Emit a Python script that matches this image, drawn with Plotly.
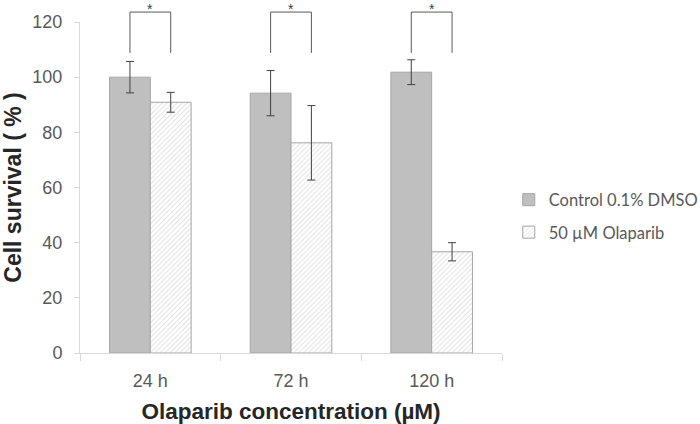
import plotly.graph_objects as go

categories = ["24 h", "72 h", "120 h"]
control = [100, 94.2, 101.8]
control_err = [5.7, 8.2, 4.5]
olaparib = [90.9, 76.2, 36.7]
olaparib_err = [3.6, 13.5, 3.3]
sig_labels = ["*", "*", "*"]
bracket_top = [123.6, 123.6, 123.6]
bracket_leg = [108.8, 108.8, 108.8]
y_ticks = [0, 20, 40, 60, 80, 100, 120]
Y_MAX = 120

BARGAP = 0.42
half = (1 - BARGAP) / 4  # offset of each bar centre from category centre

tick_font = dict(family="Liberation Sans, Arial, sans-serif", size=18, color="#595959")
err_style = dict(color="#404040", thickness=1, width=4)

fig = go.Figure()
fig.add_trace(go.Bar(
    x=categories, y=control, name="Control 0.1% DMSO",
    marker=dict(color="#bfbfbf", line=dict(color="#a6a6a6", width=1)),
    error_y=dict(type="data", array=control_err, visible=True, **err_style),
    legendgroup="a",
))
fig.add_trace(go.Bar(
    x=categories, y=olaparib, name="50 µM Olaparib",
    marker=dict(color="white", line=dict(color="#a6a6a6", width=1),
                pattern=dict(shape="/", fgcolor="#c4c4c4", bgcolor="white", size=3.5, solidity=0.3)),
    error_y=dict(type="data", array=olaparib_err, visible=True, **err_style),
    legendgroup="b",
))

# significance brackets (above the axis range, so placed in paper units derived from data values)
shapes = []
annotations = []
for i, lab in enumerate(sig_labels):
    xl, xr = i - half, i + half
    yt, yl = bracket_top[i] / Y_MAX, bracket_leg[i] / Y_MAX
    ln = dict(color="#595959", width=1)
    shapes.append(dict(type="line", xref="x", yref="paper", x0=xl, x1=xl, y0=yl, y1=yt, line=ln))
    shapes.append(dict(type="line", xref="x", yref="paper", x0=xr, x1=xr, y0=yl, y1=yt, line=ln))
    shapes.append(dict(type="line", xref="x", yref="paper", x0=xl, x1=xr, y0=yt, y1=yt, line=ln))
    annotations.append(dict(x=i, y=yt, xref="x", yref="paper", text=lab, showarrow=False,
                            yanchor="bottom", yshift=-7,
                            font=dict(family="Liberation Sans, Arial", size=14, color="#404040")))

fig.update_layout(
    width=700, height=424,
    margin=dict(l=80, r=198, t=22, b=71, autoexpand=False),
    paper_bgcolor="white", plot_bgcolor="white",
    barmode="group", bargap=BARGAP, bargroupgap=0,
    shapes=shapes, annotations=annotations,
    showlegend=True,
    legend=dict(x=1.016, y=0.414, xanchor="left", yanchor="middle",
                traceorder="grouped", tracegroupgap=8,
                font=dict(family="Lato, Open Sans, sans-serif", size=16.5, color="#595959"),
                itemwidth=30),
    xaxis=dict(
        showline=True, linecolor="#d9d9d9", linewidth=1,
        ticks="outside", tickson="boundaries", ticklen=7, tickcolor="#d9d9d9",
        tickfont=tick_font, showgrid=False, zeroline=False, ticklabelstandoff=11,
        title=dict(text="<b>Olaparib concentration (µM)</b>", standoff=14,
                   font=dict(family="Liberation Sans, Arial, sans-serif", size=22.5, color="#262626")),
    ),
    yaxis=dict(
        range=[0, Y_MAX], tickvals=y_ticks, showline=True, linecolor="#d9d9d9", linewidth=1,
        showgrid=False, zeroline=False,
        ticks="outside", ticklen=5, tickcolor="#d9d9d9", tickfont=tick_font,
        ticklabelstandoff=8,
        title=dict(text="<b>Cell survival ( % )</b>", standoff=8,
                   font=dict(family="Liberation Sans, Arial, sans-serif", size=23, color="#262626")),
    ),
)

fig.write_html("out.html", config={"displayModeBar": False},
               post_script="document.body.style.margin='0';")
